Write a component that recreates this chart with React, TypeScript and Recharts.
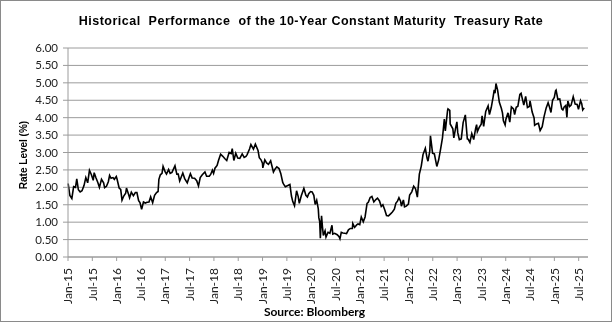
import React from 'react';
import { LineChart, Line, XAxis, YAxis, CartesianGrid } from 'recharts';

// 10Y CMT readings, [MM-DD, rate %], one list per calendar year
const rates2015: [string, number][] = [
  ['01-02', 2.11], ['01-15', 1.77], ['01-30', 1.68], ['02-13', 2.02], ['02-27', 2.0], ['03-06', 2.24], ['03-18', 1.93],
  ['04-01', 1.87], ['04-15', 1.9], ['04-30', 2.05], ['05-13', 2.28], ['05-27', 2.13], ['06-10', 2.49], ['06-24', 2.37],
  ['07-08', 2.2], ['07-15', 2.42], ['07-29', 2.27], ['08-12', 2.14], ['08-24', 2.0], ['09-09', 2.23], ['09-25', 2.13],
  ['10-02', 1.99], ['10-16', 2.03], ['10-30', 2.16], ['11-09', 2.34], ['11-20', 2.26], ['12-04', 2.28], ['12-14', 2.23], ['12-29', 2.31],
];
const rates2016: [string, number][] = [
  ['01-04', 2.24], ['01-20', 1.98], ['02-01', 1.94], ['02-11', 1.63], ['02-24', 1.75], ['03-08', 1.83], ['03-14', 1.98],
  ['03-29', 1.81], ['04-07', 1.7], ['04-20', 1.86], ['05-05', 1.76], ['05-20', 1.85], ['06-01', 1.85], ['06-14', 1.62],
  ['06-24', 1.56], ['07-06', 1.37], ['07-20', 1.58], ['08-03', 1.55], ['08-17', 1.57], ['08-31', 1.58], ['09-13', 1.73],
  ['09-28', 1.56], ['10-12', 1.77], ['10-27', 1.85], ['11-08', 1.88], ['11-14', 2.23], ['11-25', 2.36], ['12-07', 2.4],
  ['12-15', 2.6], ['12-30', 2.45],
];
const rates2017: [string, number][] = [
  ['01-10', 2.38], ['01-26', 2.51], ['02-07', 2.4], ['02-21', 2.43], ['03-13', 2.62], ['03-27', 2.38], ['04-07', 2.38],
  ['04-18', 2.18], ['05-11', 2.41], ['05-25', 2.25], ['06-14', 2.13], ['06-30', 2.31], ['07-07', 2.39], ['07-20', 2.27],
  ['08-08', 2.26], ['08-24', 2.19], ['09-07', 2.04], ['09-20', 2.28], ['10-05', 2.36], ['10-25', 2.44], ['11-07', 2.32],
  ['11-27', 2.32], ['12-07', 2.37], ['12-20', 2.49], ['12-29', 2.4],
];
const rates2018: [string, number][] = [
  ['01-09', 2.55], ['01-25', 2.63], ['02-05', 2.77], ['02-21', 2.95], ['03-07', 2.89], ['03-23', 2.82], ['04-06', 2.77],
  ['04-24', 3.0], ['05-09', 2.97], ['05-17', 3.11], ['05-29', 2.77], ['06-13', 2.98], ['06-28', 2.84], ['07-13', 2.83],
  ['07-31', 2.96], ['08-15', 2.86], ['08-29', 2.89], ['09-07', 2.94], ['09-25', 3.1], ['10-05', 3.23], ['10-24', 3.1],
  ['11-08', 3.24], ['11-28', 3.06], ['12-07', 2.85], ['12-20', 2.79], ['12-31', 2.69],
];
const rates2019: [string, number][] = [
  ['01-03', 2.56], ['01-18', 2.79], ['02-01', 2.7], ['02-15', 2.66], ['03-01', 2.76], ['03-22', 2.44], ['04-03', 2.52],
  ['04-17', 2.59], ['05-03', 2.54], ['05-16', 2.4], ['05-31', 2.14], ['06-07', 2.09], ['06-20', 2.02], ['07-08', 2.05],
  ['07-24', 2.08], ['08-05', 1.75], ['08-15', 1.59], ['08-28', 1.47], ['09-13', 1.9], ['09-25', 1.74], ['10-03', 1.54],
  ['10-18', 1.76], ['11-07', 1.97], ['11-22', 1.77], ['12-03', 1.72], ['12-13', 1.82], ['12-27', 1.88],
];
const rates2020: [string, number][] = [
  ['01-08', 1.87], ['01-21', 1.77], ['01-31', 1.51], ['02-12', 1.63], ['02-24', 1.38], ['02-28', 1.13], ['03-04', 1.02],
  ['03-09', 0.54], ['03-18', 1.18], ['03-25', 0.86], ['04-01', 0.62], ['04-14', 0.75], ['04-21', 0.57], ['05-06', 0.71],
  ['05-20', 0.68], ['06-05', 0.91], ['06-11', 0.66], ['06-25', 0.68], ['07-14', 0.64], ['07-28', 0.58], ['08-04', 0.52],
  ['08-14', 0.71], ['08-26', 0.69], ['09-10', 0.68], ['09-23', 0.67], ['10-07', 0.78], ['10-21', 0.82], ['11-06', 0.82],
  ['11-09', 0.96], ['11-23', 0.85], ['12-08', 0.92], ['12-18', 0.95], ['12-31', 0.93],
];
const rates2021: [string, number][] = [
  ['01-12', 1.15], ['01-27', 1.01], ['02-10', 1.15], ['02-25', 1.54], ['03-04', 1.57], ['03-18', 1.71], ['03-31', 1.74],
  ['04-15', 1.58], ['04-30', 1.65], ['05-12', 1.69], ['05-27', 1.61], ['06-10', 1.45], ['06-22', 1.5], ['07-06', 1.35],
  ['07-19', 1.19], ['08-03', 1.18], ['08-19', 1.24], ['09-02', 1.29], ['09-17', 1.37], ['09-28', 1.54], ['10-11', 1.61],
  ['10-21', 1.7], ['11-03', 1.6], ['11-09', 1.46], ['11-24', 1.64], ['12-02', 1.44], ['12-15', 1.46], ['12-31', 1.52],
];
const rates2022: [string, number][] = [
  ['01-10', 1.78], ['01-26', 1.87], ['02-10', 2.03], ['02-24', 1.96], ['03-07', 1.72], ['03-22', 2.38], ['04-06', 2.61],
  ['04-19', 2.94], ['05-06', 3.12], ['05-19', 2.84], ['05-26', 2.75], ['06-09', 3.04], ['06-14', 3.48], ['06-30', 2.98],
  ['07-13', 2.96], ['08-01', 2.6], ['08-15', 2.79], ['08-30', 3.11], ['09-13', 3.42], ['09-27', 3.96], ['10-04', 3.62],
  ['10-21', 4.21], ['10-24', 4.25], ['11-07', 4.21], ['11-10', 3.82], ['11-30', 3.68], ['12-07', 3.42], ['12-20', 3.69],
  ['12-30', 3.88],
];
const rates2023: [string, number][] = [
  ['01-06', 3.57], ['01-18', 3.37], ['02-02', 3.39], ['02-16', 3.86], ['03-02', 4.08], ['03-17', 3.39], ['03-24', 3.38],
  ['04-06', 3.29], ['04-20', 3.54], ['05-04', 3.37], ['05-19', 3.7], ['05-26', 3.8], ['06-01', 3.6], ['06-15', 3.72],
  ['06-30', 3.81], ['07-06', 4.05], ['07-18', 3.75], ['08-03', 4.18], ['08-21', 4.34], ['08-31', 4.09], ['09-14', 4.29],
  ['09-28', 4.59], ['10-06', 4.8], ['10-12', 4.7], ['10-19', 4.98], ['11-01', 4.79], ['11-14', 4.44], ['11-29', 4.27],
  ['12-07', 4.14], ['12-14', 3.91], ['12-27', 3.79],
];
const rates2024: [string, number][] = [
  ['01-02', 3.95], ['01-18', 4.14], ['02-01', 3.87], ['02-13', 4.31], ['02-29', 4.25], ['03-07', 4.09], ['03-19', 4.3],
  ['04-01', 4.33], ['04-16', 4.67], ['04-25', 4.7], ['05-15', 4.36], ['05-29', 4.61], ['06-12', 4.29], ['06-26', 4.32],
  ['07-01', 4.48], ['07-17', 4.16], ['08-01', 3.99], ['08-05', 3.78], ['08-20', 3.82], ['09-03', 3.84], ['09-16', 3.63],
  ['10-01', 3.74], ['10-15', 4.03], ['10-31', 4.28], ['11-15', 4.43], ['11-26', 4.3], ['12-06', 4.15], ['12-18', 4.5],
  ['12-31', 4.58],
];
const rates2025: [string, number][] = [
  ['01-10', 4.77], ['01-14', 4.79], ['01-27', 4.53], ['02-11', 4.54], ['02-26', 4.25], ['03-04', 4.22], ['03-14', 4.31],
  ['03-26', 4.35], ['04-04', 4.01], ['04-11', 4.48], ['04-24', 4.32], ['05-05', 4.36], ['05-21', 4.6], ['06-05', 4.39],
  ['06-20', 4.38], ['06-30', 4.24], ['07-15', 4.49], ['07-24', 4.4], ['08-01', 4.22], ['08-12', 4.28],
];

const years = [2015, 2016, 2017, 2018, 2019, 2020, 2021, 2022, 2023, 2024, 2025];
const yearRates = [rates2015, rates2016, rates2017, rates2018, rates2019, rates2020, rates2021, rates2022, rates2023, rates2024, rates2025];

const xTickLabels = [
  'Jan-15', 'Jul-15', 'Jan-16', 'Jul-16', 'Jan-17', 'Jul-17', 'Jan-18', 'Jul-18', 'Jan-19', 'Jul-19', 'Jan-20',
  'Jul-20', 'Jan-21', 'Jul-21', 'Jan-22', 'Jul-22', 'Jan-23', 'Jul-23', 'Jan-24', 'Jul-24', 'Jan-25', 'Jul-25',
];
const yTicks = [0, 0.5, 1, 1.5, 2, 2.5, 3, 3.5, 4, 4.5, 5, 5.5, 6];

// x is months since Jan 2015
const data = yearRates.flatMap((rows, i) =>
  rows.map(([md, rate]) => {
    const [m, d] = md.split('-').map(Number);
    return { t: (years[i] - 2015) * 12 + (m - 1) + (d - 1) / 30.5, rate };
  })
);
const xTicks = xTickLabels.map((_, i) => i * 6);

const GRID = '#9c9c9c';
const TICK_FONT = 'Lato, "Liberation Sans", sans-serif';

const XTick = (props: any) => {
  const { x, y, payload } = props;
  const label = xTickLabels[Math.round(payload.value / 6)] ?? '';
  return (
    <text
      x={x}
      y={y + 5}
      dy="0.35em"
      transform={`rotate(-90 ${x} ${y + 5})`}
      textAnchor="end"
      fontSize={12}
      fontFamily={TICK_FONT}
      fill="#222"
    >
      {label}
    </text>
  );
};

export default function App() {
  return (
    <div style={{ position: 'fixed', left: 0, top: 0, width: 615, height: 325, background: '#fff' }}>
      <div
        style={{
          position: 'absolute', left: 0, top: 0, width: 612, height: 322, boxSizing: 'border-box',
          border: '1px solid #8a8a8a', pointerEvents: 'none',
        }}
      />
      <div
        style={{
          position: 'absolute', left: 0, top: 14, width: 622, textAlign: 'center', whiteSpace: 'pre',
          fontFamily: '"Liberation Sans", Arial, sans-serif', fontWeight: 'bold', fontSize: 12.5,
          letterSpacing: 0.5, color: '#000', lineHeight: '15px',
        }}
      >
        {'Historical  Performance  of the 10-Year Constant Maturity  Treasury Rate'}
      </div>
      <div
        style={{
          position: 'absolute', left: 23, top: 155, transform: 'translate(-50%, -50%) rotate(-90deg)',
          whiteSpace: 'nowrap', fontFamily: '"Liberation Sans", Arial, sans-serif', fontWeight: 'bold', fontSize: 10,
        }}
      >
        Rate Level (%)
      </div>
      <div
        style={{
          position: 'absolute', left: 0, top: 304, width: 629, textAlign: 'center',
          fontFamily: TICK_FONT, fontWeight: 'bold', fontSize: 12,
        }}
      >
        Source: Bloomberg
      </div>
      <LineChart width={615} height={325} data={data} margin={{ top: 48, right: 27, bottom: 0, left: 0 }}>
        <CartesianGrid vertical={false} stroke={GRID} />
        <XAxis
          dataKey="t"
          type="number"
          domain={[0, 128.3]}
          ticks={xTicks}
          interval={0}
          tick={<XTick />}
          height={68}
          stroke={GRID}
          tickSize={4}
        />
        <YAxis
          type="number"
          domain={[0, 6]}
          ticks={yTicks}
          interval={0}
          width={68}
          stroke={GRID}
          tickSize={5}
          tickMargin={5}
          tickFormatter={(v: number) => v.toFixed(2)}
          tick={{ fontSize: 11.5, fontFamily: TICK_FONT, fill: '#222' }}
        />
        <Line
          type="linear"
          dataKey="rate"
          stroke="#000"
          strokeWidth={1.6}
          dot={false}
          isAnimationActive={false}
        />
      </LineChart>
    </div>
  );
}
